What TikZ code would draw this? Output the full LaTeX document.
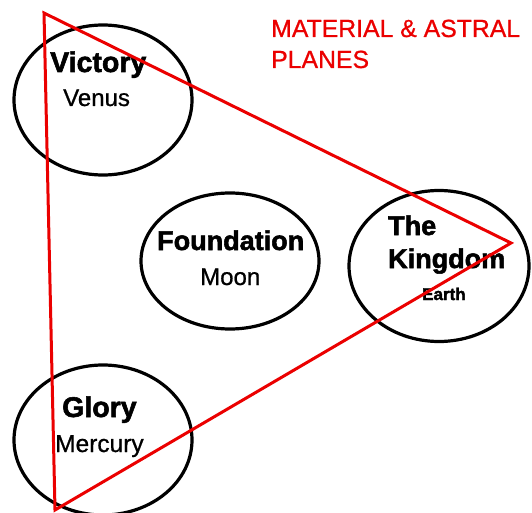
\documentclass[tikz,border=0pt]{standalone}
\usepackage{fontspec}
\setmainfont{Liberation Sans}
\newfontfamily\heavyfont[FakeBold=2]{Liberation Sans Bold}
\newfontfamily\medfont[FakeBold=0.8]{Liberation Sans}
\usetikzlibrary{shapes.geometric}
\definecolor{tri}{RGB}{235,0,0}
\tikzset{
  planet/.style={draw=black, line width=3.2pt, ellipse, inner sep=0pt},
  title/.style={font=\heavyfont\fontsize{28.5}{30}\selectfont, anchor=base west, inner sep=0pt},
  sub/.style={font=\medfont\fontsize{24}{28}\selectfont, anchor=base west, inner sep=0pt},
  head/.style={text=tri, font=\medfont\fontsize{24.8}{31}\selectfont, anchor=base west, inner sep=0pt},
  triline/.style={draw=tri, line width=3pt, line join=miter}
}
\begin{document}
\begin{tikzpicture}[x=1pt,y=-1pt]
\useasboundingbox (0,0) rectangle (532,513);
\fill[white] (0,0) rectangle (532,513);
% ellipses
\node[planet, minimum width=178pt, minimum height=150pt] (victory) at (103,100) {};
\node[planet, minimum width=178pt, minimum height=136pt] (foundation) at (230,261) {};
\node[planet, minimum width=180pt, minimum height=151pt] (kingdom) at (439,266) {};
\node[planet, minimum width=178pt, minimum height=150pt] (glory) at (103,440) {};
% texts
\node[title] (tvic) at (50,72) {Victory};
\node[sub] (tven) at (63,106) {Venus};
\node[title, font=\heavyfont\fontsize{27}{30}\selectfont] (tfou) at (157,250) {Foundation};
\node[sub] (tmoo) at (200,285) {Moon};
\node[title, font=\heavyfont\fontsize{27}{30}\selectfont] (tthe) at (388,235) {The};
\node[title, font=\heavyfont\fontsize{27}{30}\selectfont] (tkin) at (388,268) {Kingdom};
\node[sub, font=\heavyfont\fontsize{17}{20}\selectfont] (tear) at (422,300) {Earth};
\node[title] (tglo) at (62,417) {Glory};
\node[sub, font=\medfont\fontsize{24.5}{28}\selectfont] (tmer) at (55,452) {Mercury};
\node[head] (h1) at (271,37) {MATERIAL \& ASTRAL};
\node[head] (h2) at (271,68) {PLANES};
% triangle
\coordinate (ta) at (44,13);
\coordinate (tb) at (511,243);
\coordinate (tc) at (55,510);
\draw[triline] (ta) -- (tb) -- (tc) -- cycle;
\end{tikzpicture}
\end{document}
